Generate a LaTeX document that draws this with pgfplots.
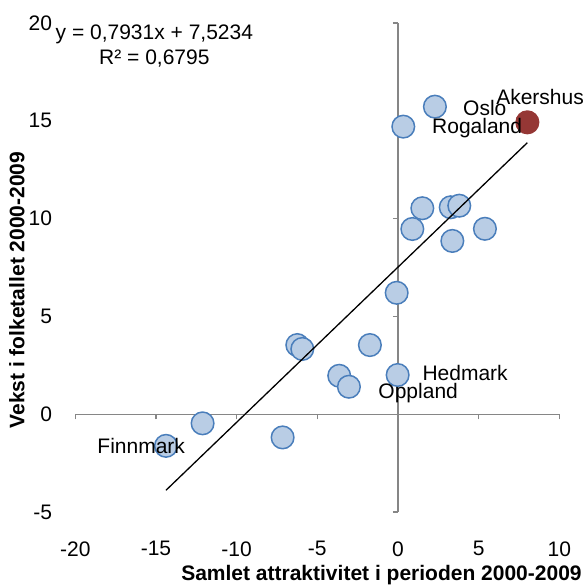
\documentclass[border=0pt]{standalone}
\usepackage{fontspec}
\setmainfont{Liberation Sans}
\usepackage{pgfplots}
\usepackage{pgfplotstable}
\pgfplotsset{compat=1.18}
\definecolor{mfill}{HTML}{B9CDE5}
\definecolor{mdraw}{HTML}{4A7EBB}
\definecolor{rfill}{HTML}{953735}
\definecolor{axgray}{HTML}{868686}

\pgfplotstableread{
x y
0.33 14.70
2.29 15.72
1.51 10.53
3.27 10.58
3.80 10.66
0.89 9.47
3.37 8.86
5.39 9.48
-0.08 6.21
-1.74 3.54
-6.24 3.54
-5.93 3.34
-3.64 1.97
-3.04 1.41
-0.02 2.01
-12.11 -0.46
-14.38 -1.61
-7.15 -1.18
}\datatab

\begin{document}
\begin{tikzpicture}[font=\fontsize{21bp}{25bp}\selectfont]
\begin{axis}[
  set layers,
  scale only axis, width=484bp, height=489.3bp,
  xmin=-20, xmax=10, ymin=-5, ymax=20,
  axis lines=middle,
  axis line style={-, draw=axgray, line width=1.5bp},
  xtick={-20,-15,-10,-5,0,5,10},
  ytick={-5,0,5,10,15,20},
  xticklabels={-20,-15,-10,-5,0,5,10},
  yticklabels={-5,0,5,10,15,20},
  hide obscured x ticks=false, hide obscured y ticks=false,
  tick style={draw=axgray, line width=1.5bp},
  tick align=outside, major tick length=5bp,
  xticklabel style={anchor=north, yshift=-97.9bp, inner sep=0pt, yshift=-24bp},
  yticklabel style={anchor=east, xshift=-322.7bp, inner sep=0pt, xshift=-18bp},
  clip=false,
  xlabel={\bfseries Samlet attraktivitet i perioden 2000-2009},
  ylabel={\bfseries Vekst i folketallet 2000-2009},
  xlabel style={at={(rel axis cs:0.6326,-0.128)}, anchor=center, inner sep=0pt},
  ylabel style={at={(rel axis cs:-0.1205,0.454)}, anchor=center, rotate=90, inner sep=0pt},
]
\addplot[only marks, mark=*, mark size=11.3bp,
  mark options={fill=mfill, draw=mdraw, line width=1.5bp}] table {\datatab};
\addplot[only marks, mark=*, mark size=11.3bp,
  mark options={fill=rfill, draw=rfill, line width=1.5bp}] coordinates {(8.02,14.92)};
\addplot[black, line width=1.3bp, on layer=axis foreground] coordinates {(-14.38,-3.88) (8.02,13.88)};
\begin{pgfonlayer}{axis foreground}
\node[anchor=west, inner sep=0pt] at (axis cs:6.08,16.21) {Akershus};
\node[anchor=west, inner sep=0pt] at (axis cs:4.03,15.65) {Oslo};
\node[anchor=west, inner sep=0pt] at (axis cs:2.11,14.63) {Rogaland};
\node[anchor=west, inner sep=0pt] at (axis cs:1.51,2.11) {Hedmark};
\node[anchor=west, inner sep=0pt] at (axis cs:-1.22,1.10) {Oppland};
\node[anchor=west, inner sep=0pt] at (axis cs:-18.64,-1.62) {Finnmark};
\node[align=center, inner sep=0pt] at (axis cs:-15.1,18.82) {y = 0,7931x + 7,5234\\R² = 0,6795};
\end{pgfonlayer}
\end{axis}
\pgfresetboundingbox
\path[use as bounding box] (-75.3bp,-74.8bp) rectangle (510.7bp,512.2bp);
\end{tikzpicture}
\end{document}
